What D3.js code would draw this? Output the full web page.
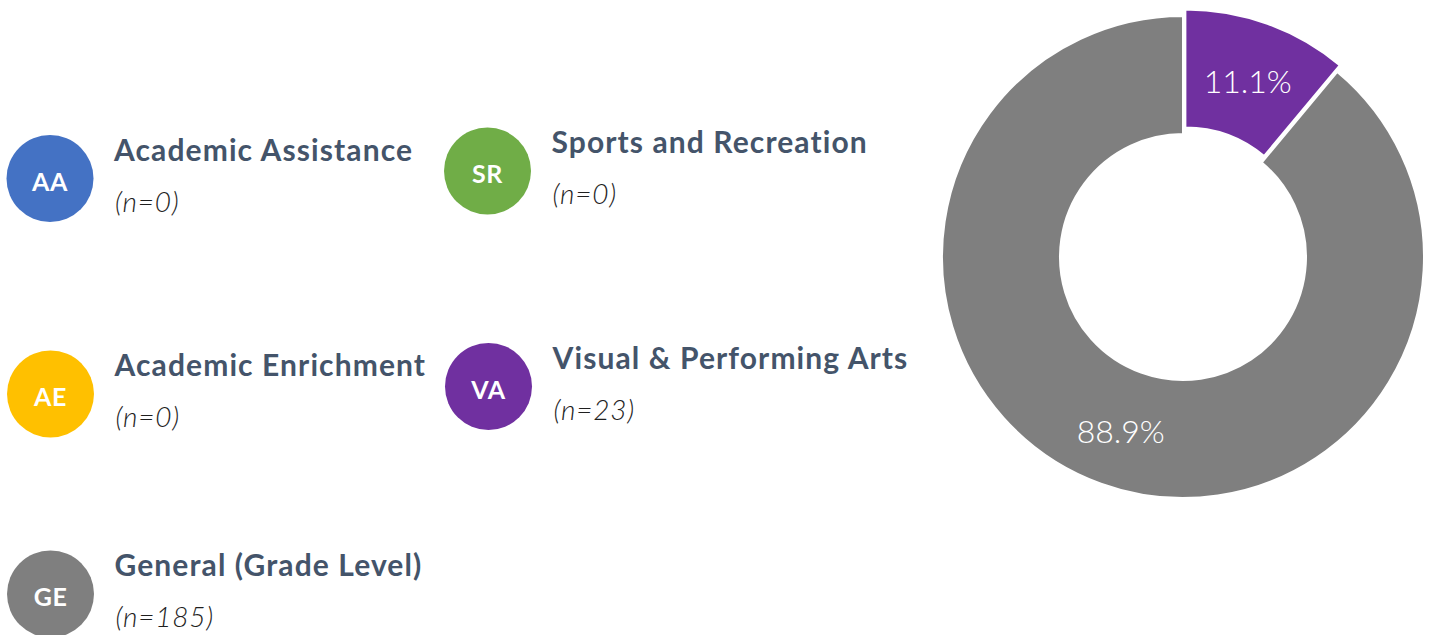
<!DOCTYPE html>
<html>
<head>
<meta charset="utf-8">
<script src="https://cdn.jsdelivr.net/npm/d3@7"></script>
<style>
  html, body { margin: 0; padding: 0; background: #ffffff; }
  svg { display: block; }
</style>
</head>
<body>
<svg id="chart" width="1430" height="635"></svg>
<script>
// ---- data ----
const categories = ["Academic Assistance", "Sports and Recreation", "Academic Enrichment", "Visual & Performing Arts", "General (Grade Level)"];
const abbreviations = ["AA", "SR", "AE", "VA", "GE"];
const counts = [0, 0, 0, 23, 185];
const colors = ["#4472C4", "#70AD47", "#FFC000", "#7030A0", "#7F7F7F"];

// ---- layout ----
const legendPos = [[50, 178.5], [487.5, 171], [50.5, 394], [488.5, 386.5], [50.5, 594]];
const W = 1430, H = 635;
const cx = 1183, cy = 257, outerR = 241, innerR = 123, explode = 7;
const FONT = "Lato, 'Open Sans', sans-serif";

const svg = d3.select("#chart");

// legend
const items = svg.append("g").selectAll("g")
  .data(categories.map((c, i) => ({ name: c, abbr: abbreviations[i], n: counts[i], color: colors[i], pos: legendPos[i] })))
  .join("g")
  .attr("transform", d => `translate(${d.pos[0]},${d.pos[1]})`);

items.append("circle").attr("r", 43.5).attr("fill", d => d.color);
items.append("text")
  .attr("text-anchor", "middle")
  .attr("y", 12)
  .attr("fill", "#ffffff")
  .style("font-family", FONT)
  .style("font-weight", 700)
  .style("font-size", "25px")
  .style("letter-spacing", "0.6px")
  .text(d => d.abbr);
items.append("text")
  .attr("x", 64)
  .attr("y", -18)
  .attr("fill", "#44546A")
  .style("font-family", FONT)
  .style("font-weight", 700)
  .style("font-size", "30px")
  .style("letter-spacing", "1.1px")
  .text(d => d.name);
items.append("text")
  .attr("x", 65)
  .attr("y", 33)
  .attr("fill", "#1f1f1f")
  .style("font-family", FONT)
  .style("font-weight", 300)
  .style("font-style", "italic")
  .style("font-size", "28px")
  .style("letter-spacing", "0.8px")
  .text(d => `(n=${d.n})`);

// donut
const total = d3.sum(counts);
const pie = d3.pie().sort(null).value(d => d)(counts);
const arc = d3.arc().innerRadius(innerR).outerRadius(outerR);
const labelArc = d3.arc().innerRadius(183).outerRadius(183);
const slices = pie.map((p, i) => ({ ...p, color: colors[i], idx: i })).filter(p => p.value > 0);
const maxIdx = d3.maxIndex(counts);

const dg = svg.append("g").attr("transform", `translate(${cx},${cy})`);
const sg = dg.selectAll("g").data(slices).join("g")
  .attr("transform", d => {
    if (d.idx === maxIdx) return null;
    const a = (d.startAngle + d.endAngle) / 2;
    return `translate(${explode * Math.sin(a)},${-explode * Math.cos(a)})`;
  });
sg.append("path")
  .attr("d", arc)
  .attr("fill", d => d.color)
  .attr("stroke", "#ffffff")
  .attr("stroke-width", 2);
sg.append("text")
  .attr("transform", d => `translate(${labelArc.centroid(d)})`)
  .attr("text-anchor", "middle")
  .attr("dy", "0.45em")
  .attr("fill", "#ffffff")
  .style("font-family", FONT)
  .style("font-weight", 300)
  .style("font-size", "32px")
  .text(d => (d.value / total * 100).toFixed(1) + "%");
</script>
</body>
</html>
